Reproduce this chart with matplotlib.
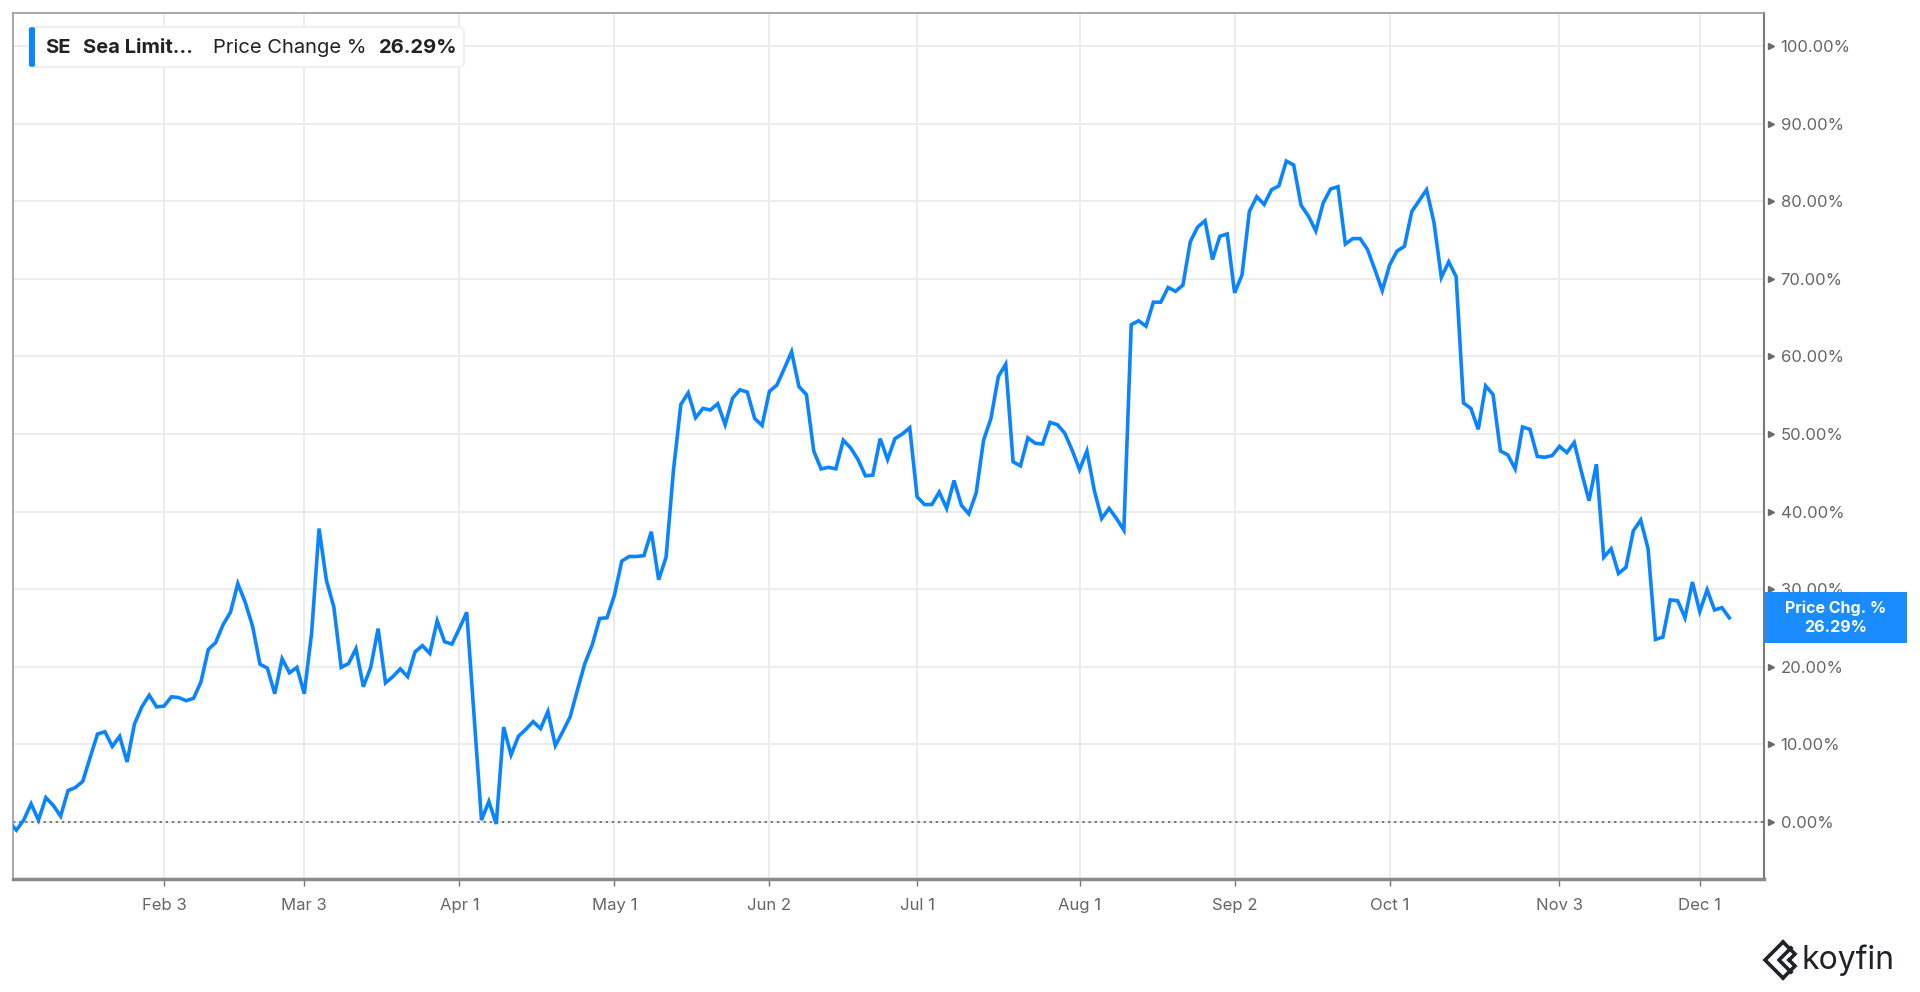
import matplotlib
matplotlib.use('Agg')
import matplotlib.pyplot as plt
import numpy as np
import pandas as pd
from matplotlib.patches import FancyBboxPatch, Rectangle
from matplotlib.lines import Line2D

plt.rcParams['font.family'] = ['Inter', 'DejaVu Sans']

# SE (Sea Limited) price change %, one value per trading day, 2024-12-31 .. 2025-12-05
holidays = ['2025-01-01', '2025-01-09', '2025-01-20', '2025-02-17', '2025-04-18',
            '2025-05-26', '2025-06-19', '2025-07-04', '2025-09-01', '2025-11-27']
dates = pd.bdate_range('2024-12-31', '2025-12-05', freq='C', holidays=holidays)

price_chg = [
    0.0, -1.1, 0.2, 2.3, 0.2, 3.1, 2.1, 0.7, 4.0, 4.4,
    5.2, 8.3, 11.3, 11.6, 9.7, 11.0, 7.7, 12.6, 14.8, 16.3,
    14.8, 14.9, 16.1, 16.0, 15.6, 15.9, 18.0, 22.2, 23.1, 25.4,
    27.0, 30.7, 28.3, 25.2, 20.3, 19.8, 16.5, 21.0, 19.2, 19.9,
    16.5, 24.4, 37.8, 31.1, 27.7, 19.9, 20.4, 22.3, 17.4, 19.9,
    24.9, 17.9, 18.7, 19.7, 18.7, 21.9, 22.7, 21.7, 25.9, 23.2,
    22.9, 24.9, 27.0, 13.5, 0.2, 2.6, -0.3, 12.2, 8.6, 11.0,
    11.9, 12.9, 12.0, 14.2, 9.8, 11.6, 13.5, 17.0, 20.4, 22.8,
    26.2, 26.3, 29.2, 33.6, 34.2, 34.2, 34.3, 37.4, 31.2, 34.1,
    45.3, 53.8, 55.3, 52.1, 53.3, 53.1, 53.9, 51.2, 54.6, 55.7,
    55.4, 52.0, 51.1, 55.5, 56.3, 58.4, 60.6, 56.1, 55.1, 47.8,
    45.5, 45.7, 45.5, 49.2, 48.2, 46.7, 44.6, 44.7, 49.4, 46.7,
    49.4, 50.0, 50.8, 41.9, 40.9, 40.9, 42.5, 40.4, 44.0, 40.8,
    39.7, 42.4, 49.2, 52.0, 57.4, 59.0, 46.4, 45.9, 49.5, 48.8,
    48.7, 51.5, 51.2, 50.1, 47.9, 45.4, 47.8, 42.7, 39.1, 40.4,
    39.1, 37.6, 64.1, 64.6, 63.9, 67.0, 67.0, 68.9, 68.4, 69.2,
    74.8, 76.7, 77.5, 72.5, 75.5, 75.8, 68.2, 70.5, 78.7, 80.6,
    79.6, 81.5, 82.0, 85.2, 84.7, 79.5, 78.1, 76.2, 79.8, 81.6,
    81.9, 74.5, 75.2, 75.2, 73.8, 71.2, 68.5, 71.8, 73.6, 74.2,
    78.7, 80.1, 81.5, 77.3, 70.2, 72.2, 70.3, 54.0, 53.3, 50.6,
    56.2, 55.1, 47.8, 47.3, 45.5, 50.9, 50.6, 47.1, 47.0, 47.2,
    48.4, 47.6, 48.9, 45.0, 41.4, 46.1, 34.1, 35.2, 32.0, 32.8,
    37.5, 38.9, 35.2, 23.5, 23.8, 28.6, 28.5, 26.3, 30.9, 27.1,
    29.9, 27.3, 27.6, 26.29,
]

tick_dates = ['2025-02-03', '2025-03-03', '2025-04-01', '2025-05-01', '2025-06-02',
              '2025-07-01', '2025-08-01', '2025-09-02', '2025-10-01', '2025-11-03',
              '2025-12-01']
y_ticks = [0, 10, 20, 30, 40, 50, 60, 70, 80, 90, 100]

line_color = '#0a84ff'
grid_color = '#ececec'
text_gray = '#666666'

W, H = 1920, 992


def fx(x):
    return x / W


def fy(y):
    return 1 - y / H


fig = plt.figure(figsize=(19.2, 9.92), dpi=100)
fig.patch.set_facecolor('white')
ax = fig.add_axes([fx(13), fy(879), fx(1764 - 13), (879 - 13) / H])

x = np.arange(len(price_chg))
ax.plot(x, price_chg, color=line_color, lw=2.6, solid_joinstyle='miter', zorder=3)
ax.axhline(0, color='#555555', lw=1.1, ls=(0, (1.5, 2.5)), zorder=2)

ax.set_xlim(0.55, 237.7)
ax.set_ylim(-7.4, 104.3)

tick_pos = [dates.get_loc(pd.Timestamp(d)) for d in tick_dates]
tick_lab = [f"{pd.Timestamp(d):%b} {pd.Timestamp(d).day}" for d in tick_dates]
ax.set_xticks(tick_pos)
ax.set_xticklabels(tick_lab)
ax.set_yticks(y_ticks)
ax.set_yticklabels([f"{v:.2f}%" for v in y_ticks])
ax.yaxis.tick_right()

ax.grid(True, color=grid_color, lw=1.4, zorder=0)
ax.set_axisbelow(True)

ax.tick_params(axis='x', length=5, width=1, color='#777777', pad=9,
               labelsize=12, labelcolor=text_gray)
ax.tick_params(axis='y', length=0, pad=12, labelsize=12, labelcolor=text_gray)

for side in ['left', 'top']:
    ax.spines[side].set_color('#9a9a9a')
    ax.spines[side].set_linewidth(1.2)
ax.spines['right'].set_color('#7a7a7a')
ax.spines['right'].set_linewidth(1.5)
ax.spines['bottom'].set_color('#8a8a8a')
ax.spines['bottom'].set_linewidth(2.5)

# small arrow ticks on the right axis
ax.plot([1.004] * len(y_ticks), y_ticks, ls='none', marker='>', ms=4.5,
        color='#6a6a6a', transform=ax.get_yaxis_transform(), clip_on=False, zorder=5)

# legend box at top left
fig.patches.append(FancyBboxPatch((fx(29), fy(67)), fx(464 - 29), (67 - 27) / H,
                                  boxstyle='round,pad=0,rounding_size=0.004',
                                  transform=fig.transFigure, facecolor='white',
                                  edgecolor='#eeeeee', lw=1.2, zorder=4))
fig.patches.append(FancyBboxPatch((fx(29), fy(67)), fx(6), (67 - 27) / H,
                                  boxstyle='round,pad=0,rounding_size=0.002',
                                  transform=fig.transFigure, facecolor=line_color,
                                  edgecolor='none', zorder=5))
ly = fy(48)
legend_kw = dict(fontsize=14.5, color='#222222', va='center', zorder=6)
fig.text(fx(45), ly, 'SE', fontweight='bold', **legend_kw)
fig.text(fx(83), ly, 'Sea Limit\u2026', fontweight='bold', **legend_kw)
fig.text(fx(213), ly, 'Price Change %', **legend_kw)
fig.text(fx(379), ly, f"{price_chg[-1]:.2f}%", fontweight='bold', **legend_kw)

# last value badge on the right axis
fig.canvas.draw()
y_disp = ax.transData.transform((0, price_chg[-1]))[1]
yc = y_disp / H
bh = 51 / H
fig.patches.append(Rectangle((fx(1765), yc - bh / 2), fx(1907 - 1765), bh,
                             transform=fig.transFigure, facecolor='#1a8cff',
                             edgecolor='none', zorder=6))
fig.text(fx(1836), yc + 9.5 / H, 'Price Chg. %', fontsize=11.5, fontweight='bold',
         color='white', ha='center', va='center', zorder=7)
fig.text(fx(1836), yc - 9.5 / H, f"{price_chg[-1]:.2f}%", fontsize=11.5, fontweight='bold',
         color='white', ha='center', va='center', zorder=7)

# koyfin logo
logo = '#1f2329'
for (x0, dx) in [(1783, 18), (1791, 12)]:
    fig.lines.append(Line2D([fx(x0), fx(x0 - dx), fx(x0)],
                            [fy(960 - dx), fy(960), fy(960 + dx)],
                            transform=fig.transFigure, color=logo, lw=2.6,
                            solid_joinstyle='miter'))
fig.lines.append(Line2D([fx(1783), fx(1795), fx(1789)],
                        [fy(942), fy(954), fy(960)],
                        transform=fig.transFigure, color=logo, lw=2.6,
                        solid_joinstyle='miter'))
fig.lines.append(Line2D([fx(1783), fx(1795), fx(1789)],
                        [fy(978), fy(966), fy(960)],
                        transform=fig.transFigure, color=logo, lw=2.6,
                        solid_joinstyle='miter'))
fig.text(fx(1801), fy(960), 'koyfin', fontsize=23, color=logo, va='center', ha='left')

fig.savefig('out.png', dpi=100)
